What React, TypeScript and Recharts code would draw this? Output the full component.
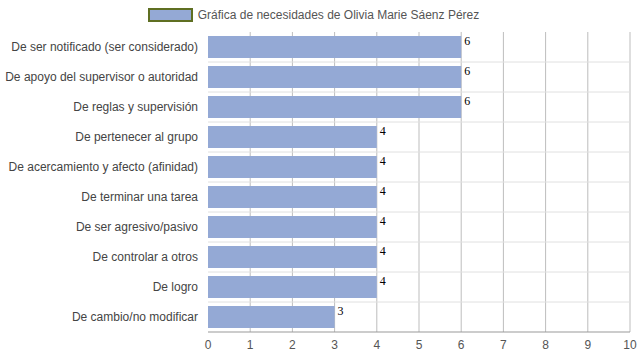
import { BarChart, Bar, XAxis, YAxis, CartesianGrid, LabelList } from "recharts";

const categories = [
  "De ser notificado (ser considerado)",
  "De apoyo del supervisor o autoridad",
  "De reglas y supervisión",
  "De pertenecer al grupo",
  "De acercamiento y afecto (afinidad)",
  "De terminar una tarea",
  "De ser agresivo/pasivo",
  "De controlar a otros",
  "De logro",
  "De cambio/no modificar",
];
const values = [6, 6, 6, 4, 4, 4, 4, 4, 4, 3];
const xTicks = [0, 1, 2, 3, 4, 5, 6, 7, 8, 9, 10];
const seriesName = "Gráfica de necesidades de Olivia Marie Sáenz Pérez";

const data = categories.map((name, i) => ({ name, value: values[i] }));

const BAR = "#94a9d5";
const SANS = "Liberation Sans, Arial, sans-serif";

const ChartLegend = () => (
  <div
    style={{
      position: "absolute",
      top: 8,
      left: 0,
      width: 639,
      display: "flex",
      justifyContent: "center",
      alignItems: "center",
      gap: 5,
      paddingRight: 12,
      boxSizing: "border-box",
    }}
  >
    <span
      style={{
        width: 41,
        height: 10,
        background: BAR,
        border: "2px solid #5f6f22",
        display: "inline-block",
      }}
    />
    <span style={{ fontSize: 12, color: "#555", fontFamily: SANS }}>{seriesName}</span>
  </div>
);

// plain one-line tick, no wrapping
const CategoryTick = (props: any) => {
  const { x, y, payload } = props;
  return (
    <text x={x} y={y} dy={4} textAnchor="end" fontSize={12} fill="#444" fontFamily={SANS}>
      {payload.value}
    </text>
  );
};

const ValueLabel = (props: any) => {
  const { x, y, width, value } = props;
  return (
    <text
      x={x + width + 3}
      y={y + 9}
      fontSize={12}
      fill="#000"
      fontFamily="Liberation Serif, Times New Roman, serif"
    >
      {value}
    </text>
  );
};

export default function App() {
  return (
    <div style={{ position: "absolute", left: 0, top: 0, width: 639, height: 360, background: "#fff" }}>
      <ChartLegend />
      <BarChart
        width={639}
        height={360}
        data={data}
        layout="vertical"
        margin={{ top: 32, right: 9, bottom: 8, left: 8 }}
        barCategoryGap={4}
        style={{ fontFamily: SANS }}
      >
        <CartesianGrid
          horizontal={false}
          stroke="#bdbdbd"
          verticalCoordinatesGenerator={({ offset }: any) =>
            xTicks.slice(1).map((t) => offset.left + (t / 10) * offset.width)
          }
        />
        <CartesianGrid
          vertical={false}
          stroke="#e0e0e0"
          horizontalCoordinatesGenerator={({ offset }: any) =>
            categories.slice(1).map((_, i) => offset.top + ((i + 1) * offset.height) / categories.length)
          }
        />
        <XAxis
          type="number"
          domain={[0, 10]}
          ticks={xTicks}
          interval={0}
          height={20}
          tickLine={false}
          axisLine={{ stroke: "#999" }}
          tick={{ fontSize: 12, fill: "#555" }}
          tickMargin={2}
        />
        <YAxis
          type="category"
          dataKey="name"
          width={200}
          tickLine={false}
          axisLine={false}
          tick={<CategoryTick />}
          tickMargin={4}
          interval={0}
        />
        <Bar dataKey="value" name={seriesName} fill={BAR} isAnimationActive={false}>
          <LabelList dataKey="value" content={<ValueLabel />} />
        </Bar>
      </BarChart>
    </div>
  );
}
